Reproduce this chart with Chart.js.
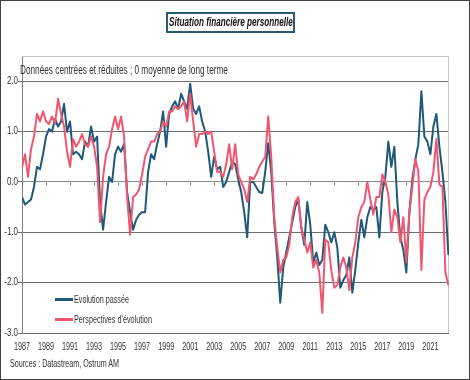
<!DOCTYPE html>
<html lang="fr">
<head>
<meta charset="utf-8">
<title>Situation financière personnelle</title>
<script src="https://cdn.jsdelivr.net/npm/chart.js@4.4.1/dist/chart.umd.min.js"></script>
<style>
  html, body { margin: 0; padding: 0; background: #fff; }
  #wrap {
    position: relative; width: 470px; height: 380px; overflow: hidden;
    font-family: 'Liberation Sans Narrow', 'Arial Narrow', 'Liberation Sans', sans-serif;
    color: #262626;
  }
  #wrap canvas { position: absolute; left: 0; top: 0; }
  .frame {
    position: absolute; left: 0; top: 0; width: 470px; height: 380px;
    box-sizing: border-box; border: 1px solid #404040; pointer-events: none;
  }
  .txt { position: absolute; white-space: nowrap; line-height: 1; transform-origin: left center; }
  #titleBox {
    position: absolute; left: 166px; top: 12px; width: 129px; height: 21px;
    box-sizing: border-box; border: 2px solid #2b5a73;
  }
  #title { font-weight: bold; font-style: italic; font-size: 12.5px; color: #111; }
  #subtitle { font-size: 12px; color: #333; }
  .leg { font-size: 10.5px; color: #333; }
  .swatch { position: absolute; width: 18px; height: 3px; }
  #sources { font-size: 10.5px; color: #333; }
</style>
</head>
<body>
<div id="wrap">
  <canvas id="chart" width="470" height="380"></canvas>
  <div id="titleBox"></div>
  <span class="txt" id="title">Situation financière personnelle</span>
  <span class="txt" id="subtitle">Données centrées et réduites ; 0 moyenne de long terme</span>
  <div class="swatch" id="sw1"></div>
  <span class="txt leg" id="leg1">Evolution passée</span>
  <div class="swatch" id="sw2"></div>
  <span class="txt leg" id="leg2">Perspectives d'évolution</span>
  <span class="txt" id="sources">Sources : Datastream, Ostrum AM</span>
  <div class="frame"></div>
</div>
<script>
// séries trimestrielles, début 1987 T1
var startYear = 1987;
var periodsPerYear = 4;

var yearTicks = [1987, 1989, 1991, 1993, 1995, 1997, 1999, 2001, 2003, 2005,
                 2007, 2009, 2011, 2013, 2015, 2017, 2019, 2021];
var yTicks = [-3, -2, -1, 0, 1, 2];

var seriesNames = ['Evolution passée', "Perspectives d'évolution"];

var evolutionPassee = [
  -0.3, -0.45, -0.4, -0.35,   // 1987
  -0.1, 0.3, 0.25, 0.55,      // 1988
  0.9, 1.05, 1.0, 1.25,       // 1989
  1.1, 1.2, 1.55, 1.0,        // 1990
  1.2, 0.55, 0.6, 0.55,       // 1991
  0.45, 0.8, 0.7, 1.1,        // 1992
  0.8, 0.9, -0.4, -0.95,      // 1993
  -0.4, 0.1, 0.0, 0.55,       // 1994
  0.7, 0.6, 0.75, -0.2,       // 1995
  -0.6, -0.95, -0.75, -0.65,  // 1996
  -0.6, -0.6, 0.2, 0.55,      // 1997
  0.45, 0.75, 1.0, 1.4,       // 1998
  0.7, 1.35, 1.5, 1.6,        // 1999
  1.45, 1.75, 1.6, 1.45,      // 2000
  1.95, 1.45, 1.35, 1.5,      // 2001
  1.2, 1.0, 0.6, 0.1,         // 2002
  0.5, 0.25, 0.3, -0.1,       // 2003
  0.0, 0.2, 0.4, 0.35,        // 2004
  0.05, -0.2, -0.6, -1.1,     // 2005
  0.0, 0.0, -0.1, -0.2,       // 2006
  -0.22, 0.2, 0.77, 0.2,      // 2007
  -0.8, -1.5, -2.4, -1.7,     // 2008
  -1.4, -1.1, -0.8, -0.5,     // 2009
  -0.35, -0.9, -1.25, -0.4,   // 2010
  -0.85, -1.6, -1.4, -1.65,   // 2011
  -1.55, -0.85, -1.0, -1.2,   // 2012
  -1.0, -1.3, -2.1, -1.95,    // 2013
  -1.85, -1.5, -2.2, -1.75,   // 2014
  -1.2, -0.75, -1.1, -0.7,    // 2015
  -0.5, -0.55, -0.5, -1.1,    // 2016
  -0.2, 0.1, 0.8, 0.3,        // 2017
  0.7, -0.4, -1.1, -1.35,     // 2018
  -1.8, -0.6, 0.05, 0.45,     // 2019
  0.75, 1.8, 0.9, 0.8,        // 2020
  0.55, 1.1, 1.35, 0.7,       // 2021
  0.2, -0.4, -1.45            // 2022
];

var perspectives = [
  0.28, 0.55, 0.1, 0.65,      // 1987
  0.9, 1.35, 1.2, 1.4,        // 1988
  1.2, 1.15, 1.3, 1.15,       // 1989
  1.65, 1.35, 1.1, 0.6,       // 1990
  0.3, 0.85, 0.7, 0.8,        // 1991
  0.95, 0.75, 0.7, 0.9,       // 1992
  0.7, 0.3, -0.8, 0.1,        // 1993
  0.55, 0.7, 1.05, 1.3,       // 1994
  1.05, 1.3, 0.9, -0.3,       // 1995
  -1.05, -0.3, -0.25, -0.15,  // 1996
  0.15, 0.5, 0.65, 0.8,       // 1997
  0.8, 0.95, 1.0, 1.2,        // 1998
  1.1, 1.4, 1.4, 1.5,         // 1999
  1.45, 1.5, 1.6, 1.2,        // 2000
  1.75, 1.2, 0.7, 0.95,       // 2001
  0.95, 1.0, 0.95, 1.0,       // 2002
  0.6, 0.2, 0.2, 0.1,         // 2003
  0.35, 0.75, 0.25, 0.75,     // 2004
  0.15, 0.0, -0.15, -0.4,     // 2005
  0.1, 0.05, 0.15, 0.3,       // 2006
  0.4, 0.5, 1.3, 0.5,         // 2007
  -0.7, -1.3, -1.8, -1.55,    // 2008
  -1.5, -1.25, -0.7, -0.4,    // 2009
  -0.3, -0.9, -1.15, -1.4,    // 2010
  -1.2, -1.7, -1.55, -1.8,    // 2011
  -2.6, -1.15, -1.2, -1.75,   // 2012
  -2.1, -2.05, -1.7, -1.5,    // 2013
  -1.7, -2.15, -1.5, -1.2,    // 2014
  -0.7, -0.5, -0.4, 0.0,      // 2015
  -0.35, -0.65, -0.3, -0.3,   // 2016
  0.15, 0.0, -0.25, -1.0,     // 2017
  -0.55, -0.7, -1.2, -0.7,    // 2018
  -1.6, -0.6, -0.1, 0.45,     // 2019
  0.2, -1.75, -0.35, -0.2,    // 2020
  -0.1, 0.2, 0.85, -0.05,     // 2021
  -0.1, -1.8, -2.05           // 2022
];

var BLUE = '#1f5878';
var PINK = '#f2566f';
var GRID = '#6e6e6e';
var TXT = '#333333';
var AXIS_FONT = "10px 'Liberation Sans', Arial, sans-serif";

function toPoints(values) {
  return values.map(function (v, i) {
    return { x: startYear + i / periodsPerYear, y: v };
  });
}

// texte condensé horizontalement (comme l'image d'origine)
function condensedText(ctx, str, x, y, sx, align) {
  ctx.save();
  ctx.translate(x, y);
  ctx.scale(sx, 1);
  ctx.textAlign = align;
  ctx.fillText(str, 0, 0);
  ctx.restore();
}

// cadre clair en haut / à droite, graduations sur la ligne du zéro, libellés des axes
var framePlugin = {
  id: 'frame',
  beforeDatasetsDraw: function (chart) {
    var a = chart.chartArea, ctx = chart.ctx;
    var xs = chart.scales.x, ys = chart.scales.y;
    ctx.save();
    ctx.strokeStyle = '#c4c4c4';
    ctx.lineWidth = 1;
    ctx.beginPath();
    ctx.moveTo(a.left, a.top + 0.5);
    ctx.lineTo(a.right - 0.5, a.top + 0.5);
    ctx.lineTo(a.right - 0.5, a.bottom);
    ctx.stroke();
    var y0 = Math.round(ys.getPixelForValue(0)) + 0.5;
    ctx.strokeStyle = GRID;
    ctx.beginPath();
    yearTicks.forEach(function (yr) {
      var x = Math.round(xs.getPixelForValue(yr)) + 0.5;
      ctx.moveTo(x, y0);
      ctx.lineTo(x, y0 + 3);
    });
    ctx.stroke();

    ctx.fillStyle = TXT;
    ctx.font = AXIS_FONT;
    ctx.textBaseline = 'middle';
    yearTicks.forEach(function (yr) {
      condensedText(ctx, String(yr), xs.getPixelForValue(yr), a.bottom + 14, 0.72, 'center');
    });
    yTicks.forEach(function (v) {
      condensedText(ctx, v.toFixed(1), a.left - 4, ys.getPixelForValue(v), 0.8, 'right');
    });
    ctx.restore();
  }
};

new Chart(document.getElementById('chart'), {
  type: 'line',
  data: {
    datasets: [{
      label: seriesNames[0],
      data: toPoints(evolutionPassee),
      borderColor: BLUE, borderWidth: 2, pointRadius: 0,
      borderJoinStyle: 'round', tension: 0, order: 1
    }, {
      label: seriesNames[1],
      data: toPoints(perspectives),
      borderColor: PINK, borderWidth: 2, pointRadius: 0,
      borderJoinStyle: 'round', tension: 0, order: 0
    }]
  },
  options: {
    responsive: false, animation: false,
    layout: { padding: { left: 0, right: 21, top: 56, bottom: 0 } },
    plugins: { legend: { display: false }, tooltip: { enabled: false } },
    scales: {
      x: {
        type: 'linear', min: 1987, max: 2022.55,
        afterBuildTicks: function (s) { s.ticks = yearTicks.map(function (v) { return { value: v }; }); },
        afterFit: function (s) { s.height = 47; },
        grid: { display: false }, border: { display: false },
        ticks: { display: false }
      },
      y: {
        min: -3, max: 2.5,
        afterBuildTicks: function (s) { s.ticks = yTicks.map(function (v) { return { value: v }; }); },
        afterFit: function (s) { s.width = 22; },
        grid: {
          color: function (c) { return c.tick && c.tick.value === 0 ? '#8c8c8c' : GRID; },
          tickColor: GRID, tickLength: 4, drawTicks: true
        },
        border: { color: '#7f7f7f' },
        ticks: { display: false }
      }
    }
  },
  plugins: [framePlugin]
});

// textes HTML, légèrement condensés comme sur l'original
function place(id, left, cy, width) {
  var el = document.getElementById(id);
  var w = el.scrollWidth;
  el.style.left = left + 'px';
  el.style.top = (cy - el.offsetHeight / 2) + 'px';
  el.style.transform = 'scaleX(' + (width / w) + ')';
}
place('title', 169, 22.5, 124);
place('subtitle', 20, 70, 208);
place('leg1', 74, 299, 55);
place('leg2', 74, 319, 78);
place('sources', 10, 363, 109);

var sw1 = document.getElementById('sw1');
sw1.style.left = '55px'; sw1.style.top = '297.5px'; sw1.style.background = BLUE;
var sw2 = document.getElementById('sw2');
sw2.style.left = '55px'; sw2.style.top = '317.5px'; sw2.style.background = PINK;
</script>
</body>
</html>
